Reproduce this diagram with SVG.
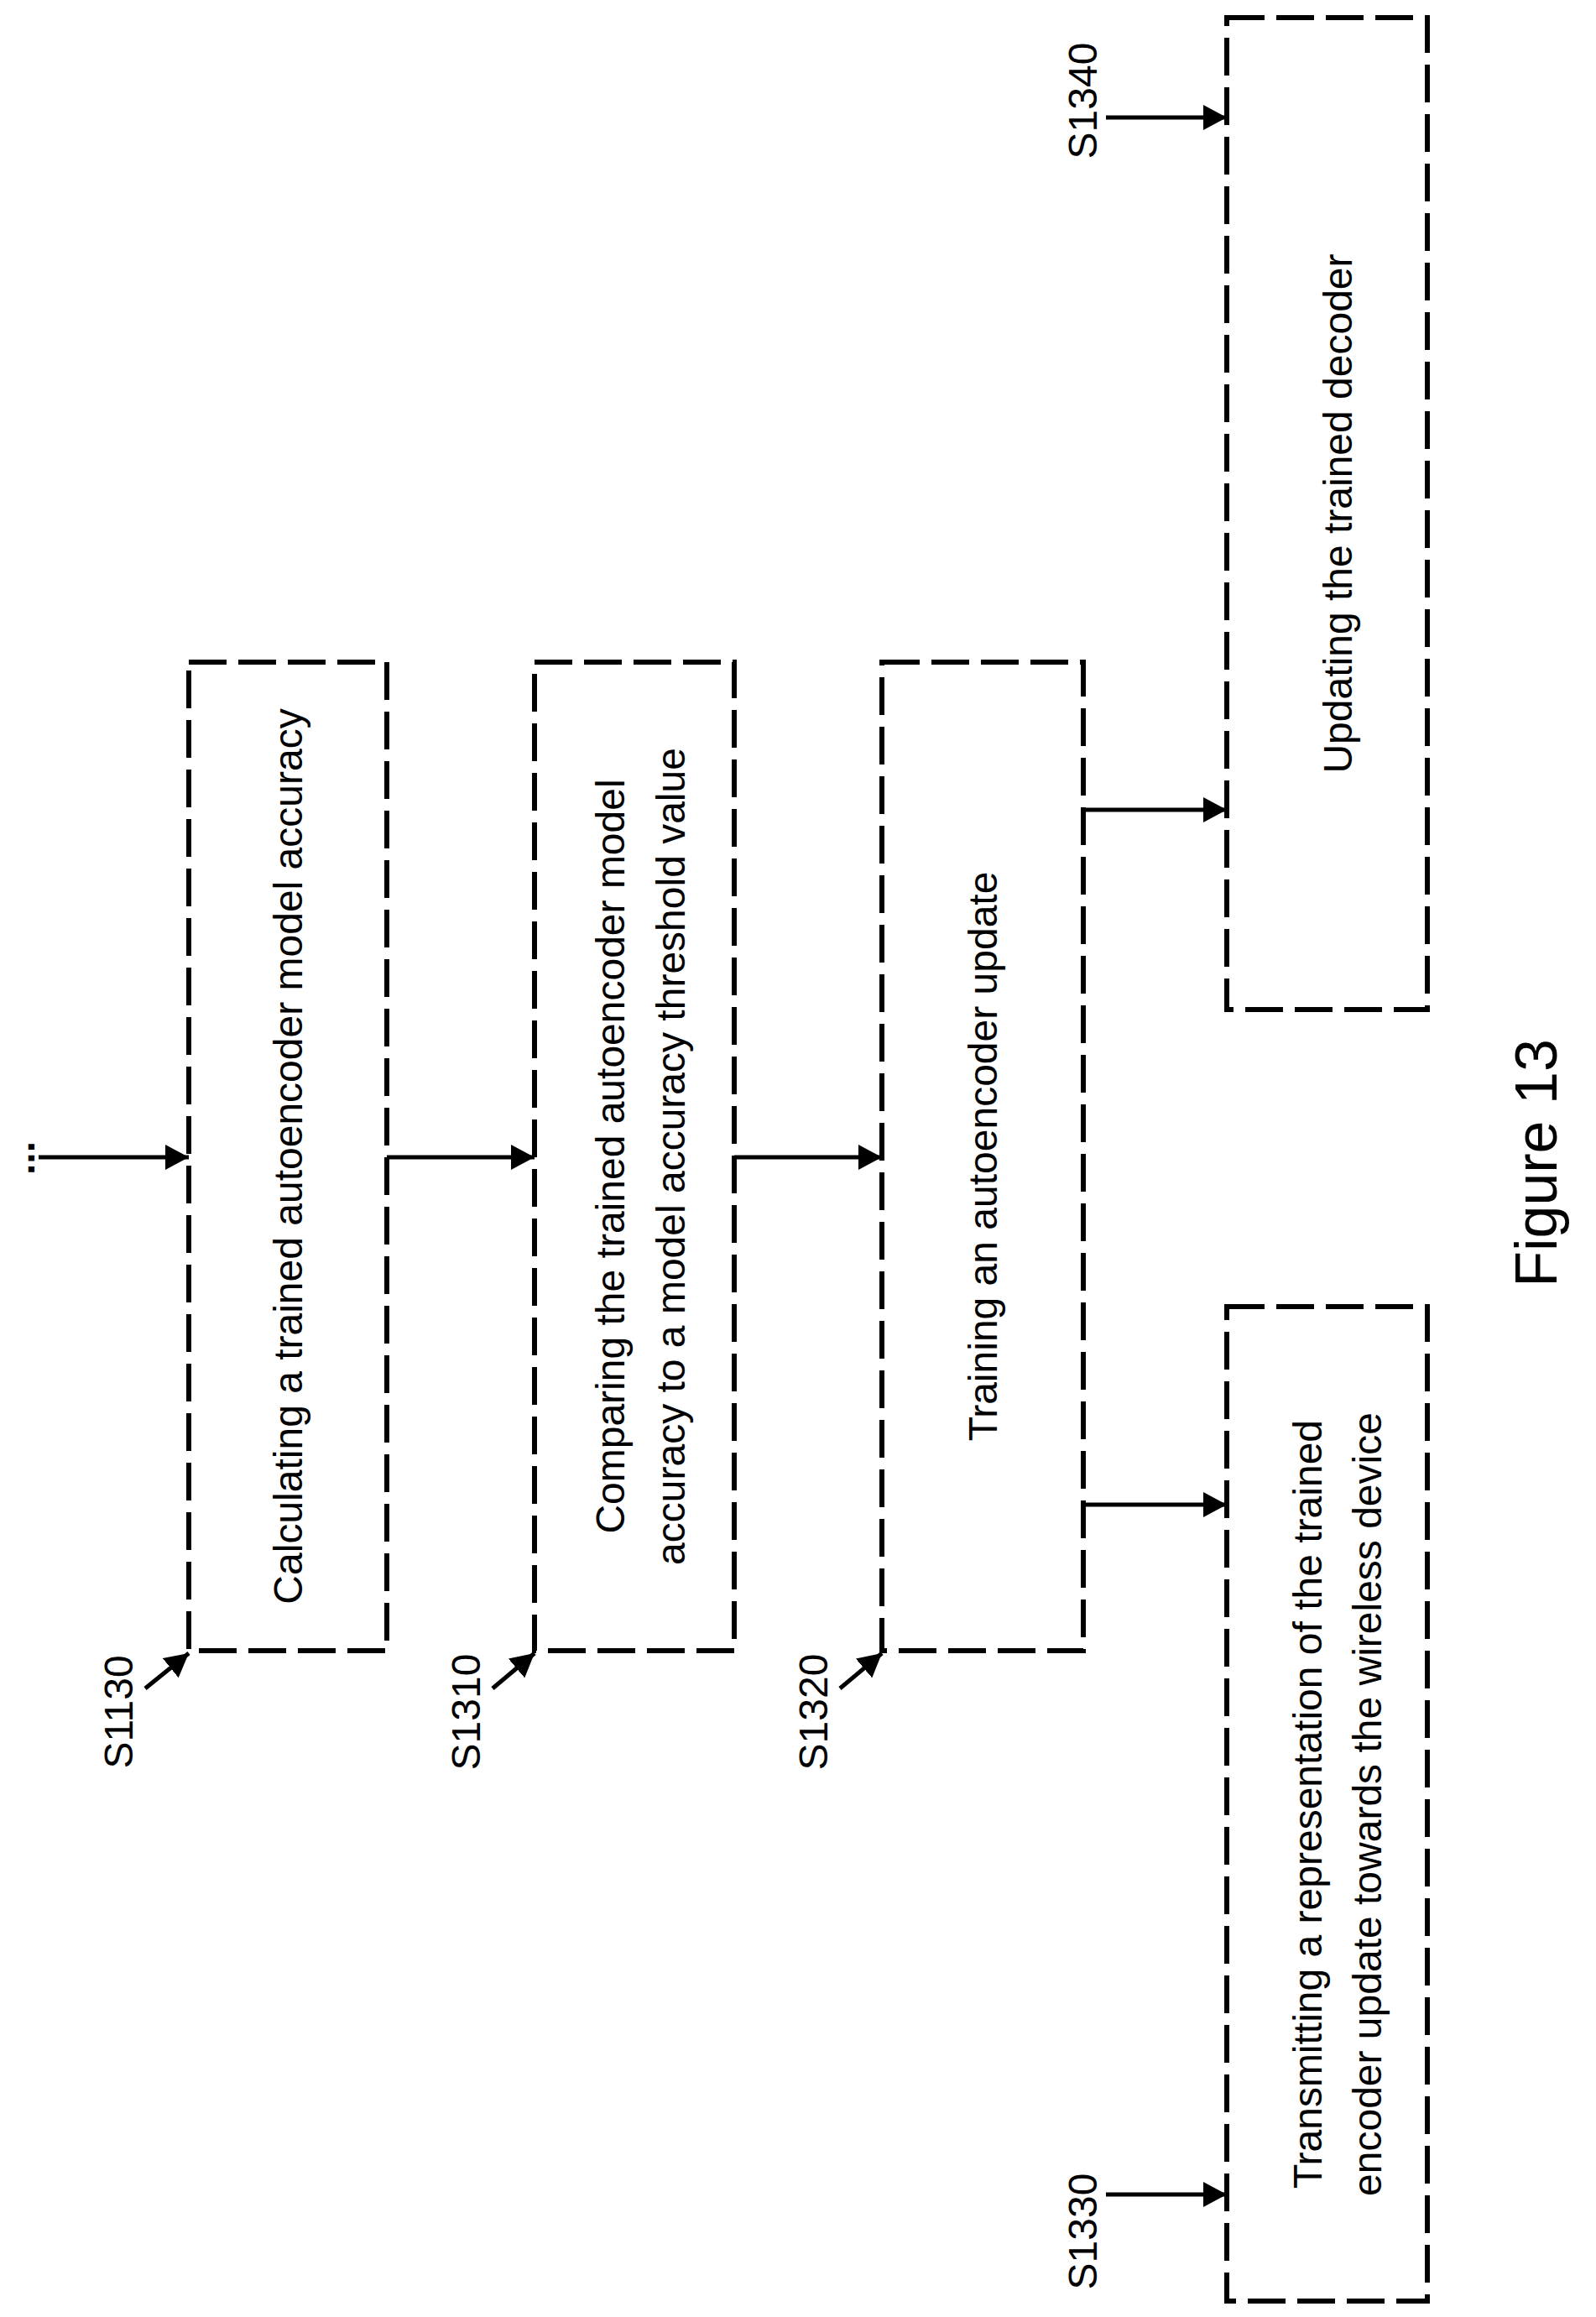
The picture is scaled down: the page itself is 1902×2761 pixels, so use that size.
<svg xmlns="http://www.w3.org/2000/svg" width="1902" height="2761" viewBox="0 0 1902 2761">
<style>
.box{fill:none;stroke:#000;stroke-width:6;stroke-dasharray:45 14}
.t{font-family:"Liberation Sans",Arial,sans-serif;font-size:48px;fill:#000;text-anchor:middle;dominant-baseline:central}
.c{stroke:#000;stroke-width:5;fill:none;marker-end:url(#ah)}
</style>
<defs><marker id="ah" markerUnits="userSpaceOnUse" markerWidth="30" markerHeight="30" refX="28" refY="15" orient="auto"><path d="M0,0 L28,15 L0,30 Z" fill="#000"/></marker></defs>
<rect width="1902" height="2761" fill="#fff"/>
<g id="n1"><rect class="box" x="225" y="789" width="236" height="1178"/><text class="t" transform="translate(343,1378) rotate(-90)">Calculating a trained autoencoder model accuracy</text></g>
<g id="n2"><rect class="box" x="637" y="789" width="238" height="1178"/><text class="t" transform="translate(727,1378) rotate(-90)">Comparing the trained autoencoder model</text><text class="t" transform="translate(799,1378) rotate(-90)">accuracy to a model accuracy threshold value</text></g>
<g id="n3"><rect class="box" x="1051" y="789" width="240" height="1178"/><text class="t" transform="translate(1171,1378) rotate(-90)">Training an autoencoder update</text></g>
<g id="n4"><rect class="box" x="1462" y="1557" width="239" height="1185"/><text class="t" transform="translate(1558,2150) rotate(-90)">Transmitting a representation of the trained</text><text class="t" transform="translate(1629,2150) rotate(-90)">encoder update towards the wireless device</text></g>
<g id="n5"><rect class="box" x="1462" y="21" width="239" height="1182"/><text class="t" transform="translate(1594,612) rotate(-90)">Updating the trained decoder</text></g>
<g id="labels">
<text class="t" transform="translate(141,2040) rotate(-90)">S1130</text>
<text class="t" transform="translate(555,2040) rotate(-90)">S1310</text>
<text class="t" transform="translate(969,2040) rotate(-90)">S1320</text>
<text class="t" transform="translate(1290,2659) rotate(-90)">S1330</text>
<text class="t" transform="translate(1290,120) rotate(-90)">S1340</text>
<text class="t" style="font-weight:bold" transform="translate(24,1380) rotate(-90)">...</text>
<text class="t" style="font-size:70px" transform="translate(1831,1386) rotate(-90)">Figure 13</text>
</g>
<g id="connectors">
<line class="c" x1="46" y1="1379" x2="225" y2="1379"/>
<line class="c" x1="461" y1="1379" x2="637" y2="1379"/>
<line class="c" x1="875" y1="1379" x2="1051" y2="1379"/>
<line class="c" x1="1291" y1="965" x2="1462" y2="965"/>
<line class="c" x1="1291" y1="1793" x2="1462" y2="1793"/>
<line class="c" x1="1318" y1="140" x2="1462" y2="140"/>
<line class="c" x1="1318" y1="2615" x2="1462" y2="2615"/>
<line class="c" x1="173" y1="2012" x2="225" y2="1970"/>
<line class="c" x1="587" y1="2012" x2="637" y2="1970"/>
<line class="c" x1="1001" y1="2012" x2="1051" y2="1970"/>
</g>
</svg>
